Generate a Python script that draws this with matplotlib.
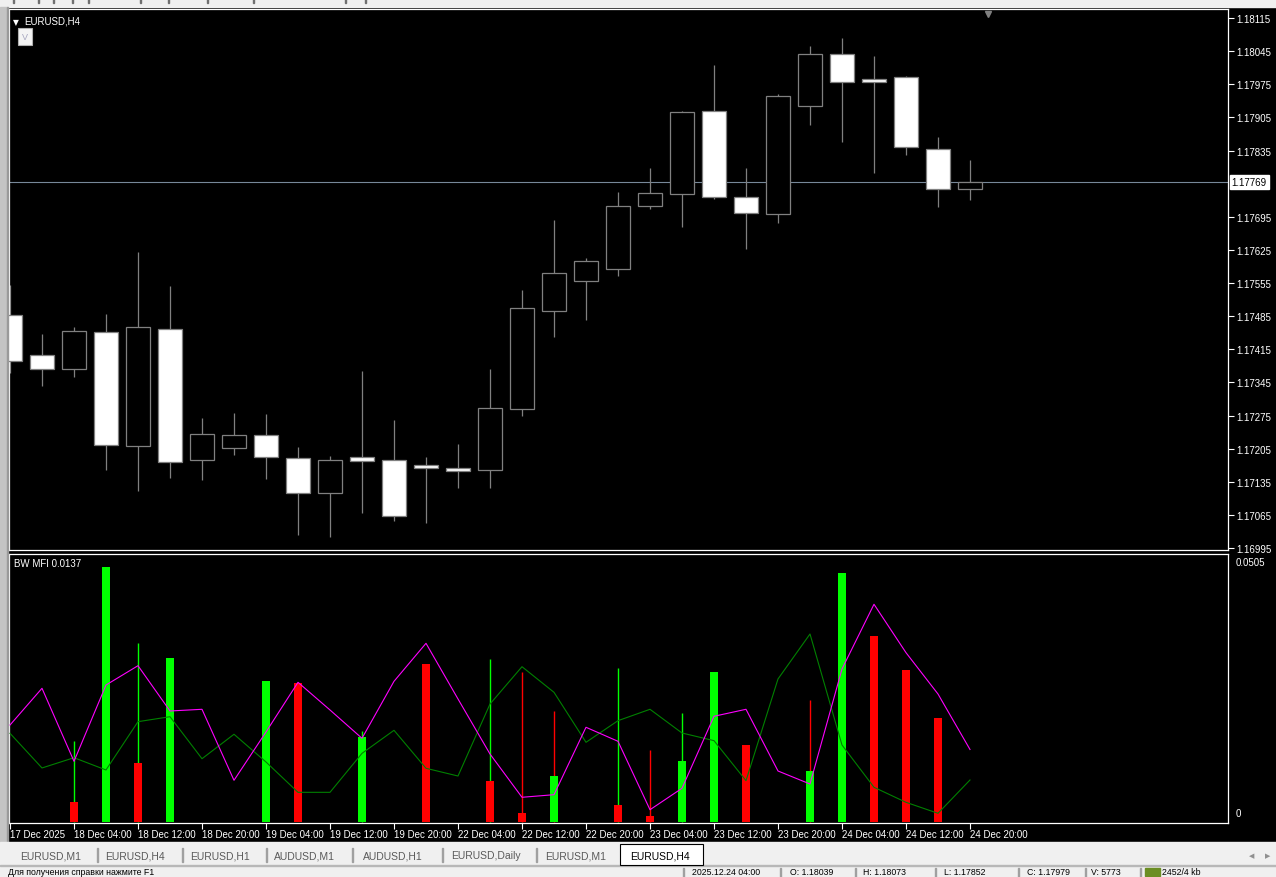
import matplotlib.pyplot as plt
import numpy as np
from matplotlib.patches import Rectangle

plt.rcParams['font.family'] = ['Liberation Sans', 'DejaVu Sans']

# EURUSD H4 candles, 17 Dec 20:00 .. 24 Dec 20:00
opens = [1.17487, 1.17403, 1.17373, 1.17451, 1.17210, 1.17458, 1.17181, 1.17206,
         1.17234, 1.17185, 1.17111, 1.17187, 1.17181, 1.17170, 1.17164, 1.17160,
         1.17289, 1.17496, 1.17560, 1.17584, 1.17718, 1.17743, 1.17918, 1.17737,
         1.17701, 1.17929, 1.18039, 1.17986, 1.17990, 1.17838, 1.17754]
highs = [1.17551, 1.17447, 1.17462, 1.17489, 1.17620, 1.17549, 1.17270, 1.17280,
         1.17278, 1.17208, 1.17189, 1.17369, 1.17265, 1.17187, 1.17215, 1.17373,
         1.17540, 1.17688, 1.17608, 1.17747, 1.17798, 1.17918, 1.18016, 1.17798,
         1.17954, 1.18056, 1.18073, 1.18035, 1.17992, 1.17863, 1.17815]
lows = [1.17365, 1.17337, 1.17356, 1.17160, 1.17115, 1.17143, 1.17139, 1.17192,
        1.17141, 1.17022, 1.17018, 1.17069, 1.17052, 1.17048, 1.17122, 1.17122,
        1.17274, 1.17441, 1.17477, 1.17570, 1.17711, 1.17673, 1.17732, 1.17627,
        1.17682, 1.17889, 1.17852, 1.17787, 1.17825, 1.17715, 1.17730]
closes = [1.17390, 1.17373, 1.17453, 1.17213, 1.17462, 1.17177, 1.17236, 1.17234,
          1.17187, 1.17111, 1.17181, 1.17180, 1.17063, 1.17165, 1.17158, 1.17291,
          1.17502, 1.17576, 1.17601, 1.17718, 1.17745, 1.17916, 1.17737, 1.17703,
          1.17950, 1.18039, 1.17979, 1.17980, 1.17842, 1.17754, 1.17769]

date_labels = ["17 Dec 2025", "18 Dec 04:00", "18 Dec 12:00", "18 Dec 20:00",
               "19 Dec 04:00", "19 Dec 12:00", "19 Dec 20:00", "22 Dec 04:00",
               "22 Dec 12:00", "22 Dec 20:00", "23 Dec 04:00", "23 Dec 12:00",
               "23 Dec 20:00", "24 Dec 04:00", "24 Dec 12:00", "24 Dec 20:00"]
price_ticks = [1.18115, 1.18045, 1.17975, 1.17905, 1.17835, 1.17695, 1.17625,
               1.17555, 1.17485, 1.17415, 1.17345, 1.17275, 1.17205, 1.17135,
               1.17065, 1.16995]
last_price = 1.17769

# BW MFI window
bar_value = [0, 0, 0.00378, 0.04820, 0.01115, 0.03100, 0, 0, 0.02665, 0.02627, 0,
             0.01607, 0, 0.02986, 0, 0.00775, 0.00170, 0.00869, 0, 0.00321, 0.00113,
             0.01153, 0.02835, 0.01455, 0, 0.00964, 0.04706, 0.03515, 0.02873, 0.01966, 0]
bar_color = ['', '', 'r', 'g', 'r', 'g', '', '', 'g', 'r', '', 'g', '', 'r', '', 'r',
             'r', 'g', '', 'r', 'r', 'g', 'g', 'r', '', 'g', 'g', 'r', 'r', 'r', '']
thin_value = [0, 0, 0.01531, 0, 0.03383, 0, 0, 0, 0, 0, 0, 0.01720, 0, 0, 0, 0.03081,
              0.02835, 0.02098, 0, 0.02911, 0.01361, 0.02060, 0, 0, 0, 0.02306, 0, 0, 0, 0, 0]
thin_color = ['', '', 'g', '', 'g', '', '', '', '', '', '', 'g', '', '', '', 'g',
              'r', 'r', '', 'g', 'r', 'g', '', '', '', 'r', '', '', '', '', '']
mfi_line = [0.01833, 0.02527, 0.01147, 0.02589, 0.02954, 0.02098, 0.02130, 0.00788,
            0.01701, 0.02640, 0.02117, 0.01582, 0.02659, 0.03377, 0.02325, 0.01285,
            0.00467, 0.00516, 0.01790, 0.01525, 0.00232, 0.00637, 0.01998, 0.02130,
            0.00964, 0.00718, 0.02892, 0.04115, 0.03200, 0.02419, 0.01370]
vol_line = [0.01676, 0.01021, 0.01215, 0.00983, 0.01896, 0.01990, 0.01196, 0.01658,
            0.01134, 0.00561, 0.00561, 0.01298, 0.01733, 0.01015, 0.00869, 0.02230,
            0.02935, 0.02451, 0.01506, 0.01915, 0.02130, 0.01682, 0.01537, 0.00781,
            0.02703, 0.03553, 0.01455, 0.00656, 0.00372, 0.00164, 0.00794]

tabs = ["EURUSD,M1", "EURUSD,H4", "EURUSD,H1", "AUDUSD,M1", "AUDUSD,H1",
        "EURUSD,Daily", "EURUSD,M1", "EURUSD,H4"]
status = ["2025.12.24 04:00", "O: 1.18039", "H: 1.18073", "L: 1.17852",
          "C: 1.17979", "V: 5773", "2452/4 kb"]

W, H = 1276, 878
colors = {'g': '#00ff00', 'r': '#ff0000'}
grey = '#808080'

fig = plt.figure(figsize=(W / 100, H / 100), dpi=100, facecolor='black')


def px_rect(x0, y0, x1, y1):
    return [x0 / W, 1 - y1 / H, (x1 - x0) / W, (y1 - y0) / H]


def fig_box(x0, y0, x1, y1, **kw):
    fig.add_artist(Rectangle((x0 / W, 1 - y1 / H), (x1 - x0) / W, (y1 - y0) / H,
                             transform=fig.transFigure, **kw))


def fig_text(x, y, s, **kw):
    fig.text(x / W, 1 - y / H, s, **kw)


x = np.arange(len(opens))
xlim = (-1 / 32, 1218 / 32)

# price window
ax1 = fig.add_axes(px_rect(9, 10, 1228, 551), facecolor='black')
ax1.set_xlim(*xlim)
ax1.set_ylim(1.16991, 1.18134)
ax1.axhline(last_price, color='#778899', lw=0.8, zorder=1)
ax1.vlines(x, lows, highs, color=grey, lw=0.9, zorder=2)
o = np.array(opens)
c = np.array(closes)
face = ['black' if cc >= oo else 'white' for oo, cc in zip(o, c)]
ax1.bar(x, np.maximum(np.abs(c - o), 0.00002), bottom=np.minimum(o, c), width=0.75,
        color=face, edgecolor=grey, lw=0.9, zorder=3)
ax1.yaxis.tick_right()
ax1.set_yticks(price_ticks)
ax1.set_yticklabels([f"{p:.5f}" for p in price_ticks])
ax1.tick_params(axis='y', colors='white', length=4, width=0.8, pad=2, labelsize=7)
ax1.set_xticks([])
for s in ax1.spines.values():
    s.set_color('white')
    s.set_linewidth(0.9)
ax1.annotate(f"{last_price:.5f}", xy=(1.0, last_price), xycoords=('axes fraction', 'data'),
             xytext=(2.5, 0), textcoords='offset points', va='center', ha='left',
             fontsize=7, color='black', annotation_clip=False,
             bbox=dict(boxstyle='square,pad=0.2', fc='white', ec='white'))
ax1.plot([30.55], [0.99], marker='v', ms=5, color=grey,
         transform=ax1.get_xaxis_transform(), clip_on=False)
ax1.text(4 / 1219, 0.985, "\u25bc", transform=ax1.transAxes, color='white',
         fontsize=5.5, va='top', ha='left', family='DejaVu Sans')
ax1.text(15 / 1219, 0.988, "EURUSD,H4", transform=ax1.transAxes, color='white',
         fontsize=7, va='top', ha='left')
ax1.text(13 / 1219, 0.957, "V", transform=ax1.transAxes, color='#a8a8c0',
         fontsize=6.5, va='top', ha='left',
         bbox=dict(boxstyle='square,pad=0.45', fc='#f4f4f4', ec='#b0b0b0', lw=0.8))

# BW MFI window
ax2 = fig.add_axes(px_rect(9, 555, 1228, 824), facecolor='black')
ax2.set_xlim(*xlim)
ax2.set_ylim(-0.00019, 0.05065)
for i in x:
    if thin_color[i]:
        ax2.vlines(i, 0, thin_value[i], color=colors[thin_color[i]], lw=1.0, zorder=2)
for i in x:
    if bar_color[i]:
        ax2.bar(i, bar_value[i], width=0.28, color=colors[bar_color[i]], lw=0, zorder=3)
ax2.plot(x, vol_line, color='#008000', lw=0.8, zorder=4)
ax2.plot(x, mfi_line, color='#ff00ff', lw=0.8, zorder=5)
ax2.set_yticks([])
ax2.set_xticks(x[::2])
ax2.set_xticklabels(date_labels, ha='left')
ax2.tick_params(axis='x', colors='white', length=4, width=0.8, pad=0, labelsize=7)
for s in ax2.spines.values():
    s.set_color('white')
    s.set_linewidth(0.9)
ax2.text(1 + 8 / 1219, 0.99, "0.0505", transform=ax2.transAxes, color='white',
         fontsize=7, va='top', ha='left')
ax2.text(1 + 8 / 1219, 0.018, "0", transform=ax2.transAxes, color='white',
         fontsize=7, va='bottom', ha='left')
ax2.text(5 / 1219, 0.985, "BW MFI 0.0137", transform=ax2.transAxes, color='white',
         fontsize=7, va='top', ha='left')

# window chrome
fig_box(0, 0, W, 8, color='#f0f0f0')
for xs in [13, 38, 53, 72, 88, 140, 168, 207, 253, 345, 365]:
    fig_box(xs, 0, xs + 1, 4, color='#707070')
fig_box(0, 8, 7, 845, color='#c4c4c4')
fig_box(7, 8, 8, 845, color='#9a9a9a')
fig_box(0, 843, W, 866, color='#f0f0f0')
fig_box(0, 866, W, H, color='#f0f0f0')
fig_box(0, 866, W, 867, color='#b8b8b8')

tab_x = [20, 105, 190, 274, 363, 451, 545, 630]
sep_x = [97, 182, 266, 352, 442, 536]
fig_box(620, 845, 703, 866, facecolor='white', edgecolor='black', lw=0.8)
for sx in sep_x:
    fig_box(sx, 849, sx + 1, 863, color='#a0a0a0')
for name, tx in zip(tabs, tab_x):
    active = tx == tab_x[-1]
    fig_text(tx, 856.5, name, color='black' if active else '#5a5a5a',
             fontsize=7.5, va='center', ha='left')
fig_text(1252, 856, "\u25c0", color='#909090', fontsize=5, va='center', ha='center',
         family='DejaVu Sans')
fig_text(1268, 856, "\u25b6", color='#909090', fontsize=5, va='center', ha='center',
         family='DejaVu Sans')

# status bar
fig_text(8, 872.5, "Для получения справки нажмите F1", color='black', fontsize=6.3,
         va='center', ha='left')
status_x = [692, 790, 863, 944, 1027, 1091, 1162]
for sx in [683, 780, 855, 935, 1018, 1085, 1140]:
    fig_box(sx, 869, sx + 1, H, color='#a0a0a0')
fig_box(1145, 869, 1160, 877, color='#6b8e23')
for txt, sx in zip(status, status_x):
    fig_text(sx, 872.5, txt, color='black', fontsize=6.3, va='center', ha='left')

fig.savefig('out.png', dpi=100, facecolor=fig.get_facecolor())
